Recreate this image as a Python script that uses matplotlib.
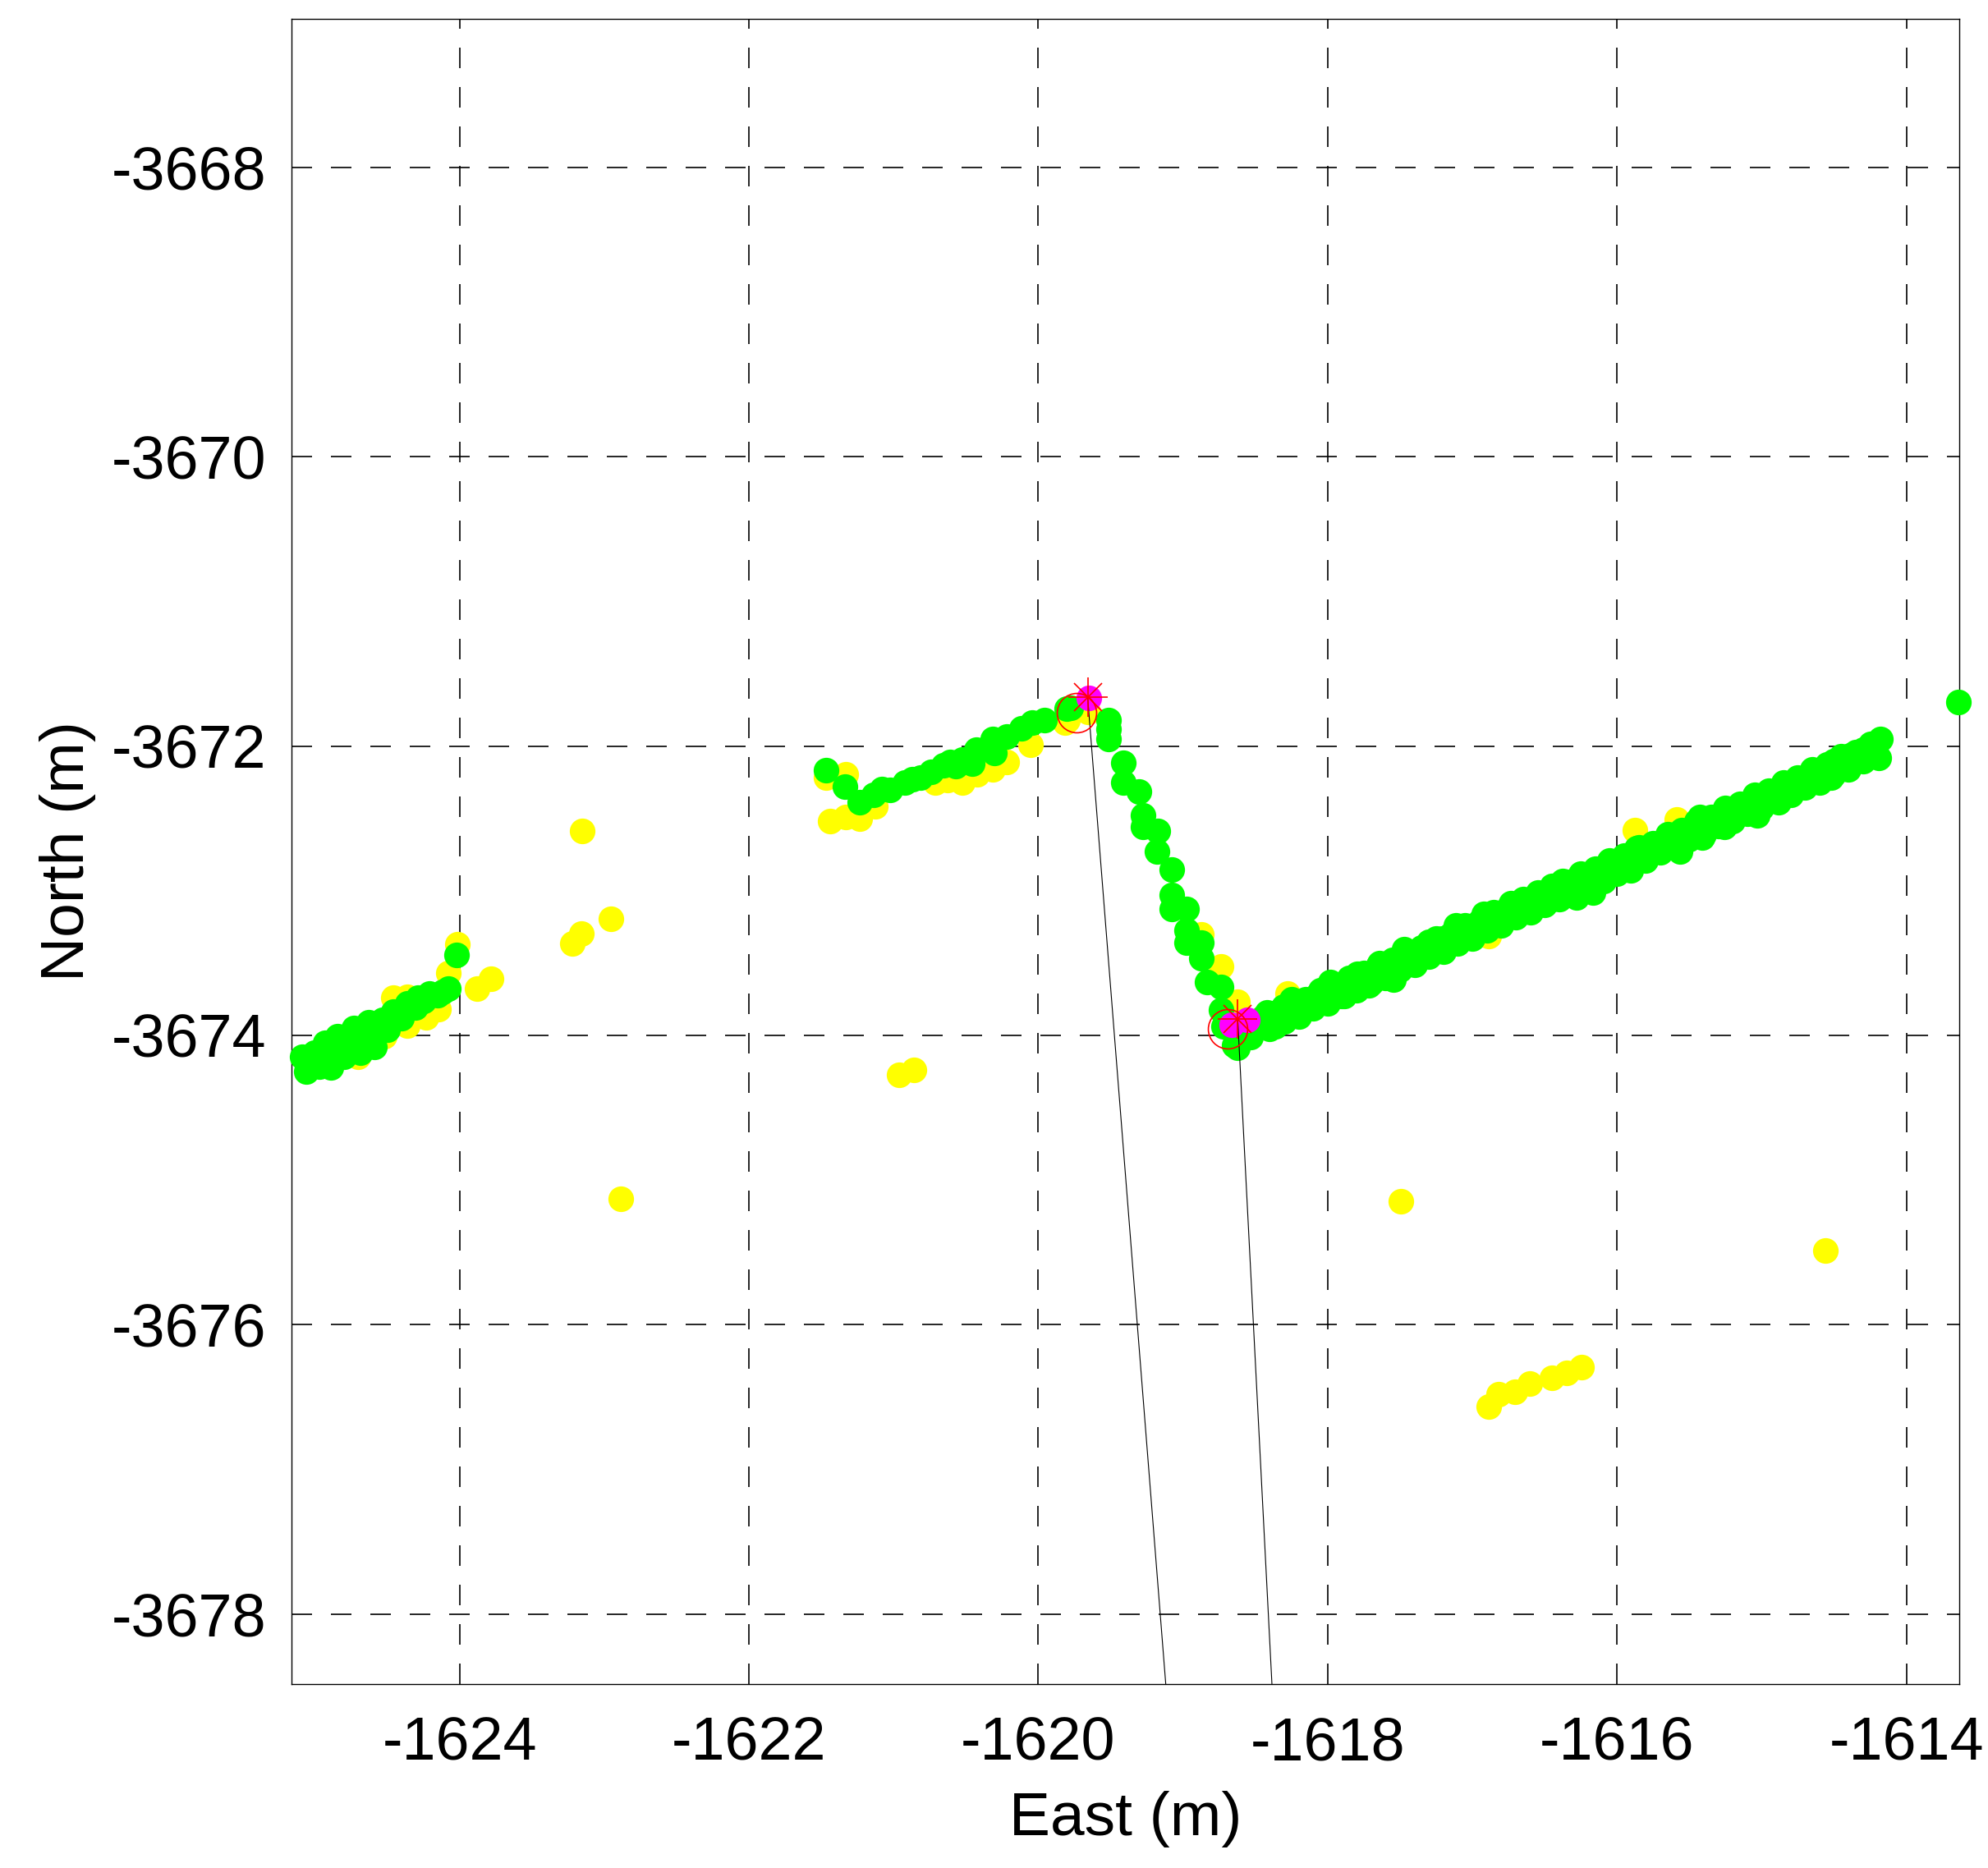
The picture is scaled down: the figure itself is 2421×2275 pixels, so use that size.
import numpy as np
import matplotlib
matplotlib.use("Agg")
import matplotlib.pyplot as plt

plt.rcParams["font.family"] = ["Liberation Sans", "DejaVu Sans"]
plt.rcParams["axes.unicode_minus"] = False

# --- data (East / North in metres) ---
# raw detections (yellow)
yellow_east = [-1624.017, -1624.078, -1623.879, -1623.784, -1624.456, -1624.361, -1624.144,
               -1624.229, -1624.361, -1624.522, -1624.700, -1624.900,
               -1622.953, -1623.157, -1623.223, -1623.155, -1622.887, -1620.962, -1620.862,
               -1621.466, -1621.328, -1621.436, -1621.328, -1621.233, -1621.129, -1620.713,
               -1620.628, -1620.524, -1620.420, -1620.316, -1620.221, -1620.051, -1619.796,
               -1619.654, -1619.818,
               -1618.872, -1618.739, -1618.625, -1618.276,
               -1616.885, -1615.879, -1615.589,
               -1617.493, -1614.561, -1616.886, -1616.820, -1616.706, -1616.602, -1616.451,
               -1616.347, -1616.243]
yellow_north = [-3673.372, -3673.571, -3673.675, -3673.608, -3673.741, -3673.731, -3673.817,
                -3673.873, -3673.930, -3674.006, -3674.150, -3674.200,
                -3673.194, -3673.294, -3673.364, -3672.588, -3675.131, -3674.274, -3674.240,
                -3672.216, -3672.197, -3672.518, -3672.490, -3672.499, -3672.414, -3672.253,
                -3672.235, -3672.253, -3672.197, -3672.159, -3672.112, -3671.989, -3671.818,
                -3671.762, -3671.837,
                -3673.303, -3673.521, -3673.767, -3673.710,
                -3673.313, -3672.584, -3672.509,
                -3675.148, -3675.485, -3676.567, -3676.481, -3676.462, -3676.406, -3676.369,
                -3676.330, -3676.293]

# filtered track (green)
green_east = [
    # left section
    -1625.090, -1625.061, -1625.005, -1624.967, -1624.929, -1624.891, -1624.844, -1624.796,
    -1624.759, -1624.730, -1624.683, -1624.645, -1624.626, -1624.588, -1624.532, -1624.456,
    -1624.361, -1624.305, -1624.286, -1624.210, -1624.153, -1624.078, -1624.021,
    -1625.040, -1624.950, -1624.860, -1624.700, -1624.500, -1624.400, -1624.250, -1624.120,
    # middle section
    -1621.466, -1621.334, -1621.233, -1621.139, -1621.025, -1620.921, -1620.817, -1620.742,
    -1620.656, -1620.571, -1620.524, -1620.458, -1620.429, -1620.316, -1620.306, -1620.221,
    -1620.117, -1620.042, -1619.956, -1619.805, -1619.777, -1621.080, -1620.870, -1620.610,
    # descending section
    -1619.515, -1619.515, -1619.515, -1619.415, -1619.415, -1619.307, -1619.278, -1619.278,
    -1619.174, -1619.178, -1619.076, -1619.076, -1619.076, -1618.976, -1618.976, -1618.976,
    -1618.875, -1618.875, -1618.834, -1618.739, -1618.739, -1618.720, -1618.645,
    # right section
    -1618.626, -1618.588, -1618.531, -1618.418, -1618.361, -1618.304, -1618.247, -1618.171,
    -1618.077, -1617.982, -1617.888, -1617.793, -1617.718, -1617.642, -1617.566, -1617.547,
    -1617.472, -1617.396, -1617.321, -1617.302, -1617.207, -1617.112, -1617.037, -1616.923,
    -1616.829, -1616.734, -1616.640, -1616.545, -1616.470, -1616.375, -1616.281, -1616.186,
    -1616.091, -1615.997,
    -1616.318, -1616.281, -1616.186, -1616.167, -1616.072, -1616.016, -1615.902, -1615.864,
    -1615.789, -1615.676, -1615.581, -1615.562, -1615.449, -1615.430, -1615.411, -1615.279,
    -1615.260, -1615.164, -1615.051, -1615.032, -1614.938, -1614.881, -1614.843, -1614.730,
    -1614.692, -1614.617, -1614.522, -1614.504, -1614.409, -1614.390, -1614.296, -1614.277,
    -1614.192, -1614.179,
    -1618.45, -1618.35, -1618.25, -1618.15, -1618.05, -1617.95, -1617.85, -1617.75,
    -1617.65, -1617.55, -1617.45, -1617.35, -1617.25, -1617.15, -1617.05, -1616.95,
    -1616.85, -1616.75, -1616.65, -1616.55, -1616.45, -1616.35, -1616.25, -1616.15,
    -1616.05, -1615.95, -1615.85, -1615.75, -1615.65, -1615.55, -1615.45, -1615.35,
    -1615.25, -1615.15, -1615.05, -1614.95, -1614.85, -1614.75, -1614.65, -1614.55,
    -1614.45, -1614.35, -1614.25,
    -1618.40, -1618.30, -1618.20, -1618.10, -1618.00, -1617.90, -1617.80, -1617.70,
    -1617.60, -1617.50, -1617.40, -1617.30, -1617.20, -1617.10, -1617.00, -1616.90,
    -1616.80, -1616.70, -1616.60, -1616.50, -1616.40, -1616.30, -1616.20, -1616.10,
    -1616.00, -1615.90, -1615.80, -1615.70, -1615.60, -1615.50, -1615.40, -1615.30,
    -1615.20, -1615.10, -1615.00, -1614.90, -1614.80, -1614.70, -1614.60, -1614.50,
    -1614.40, -1614.30,
    -1613.640]
green_north = [
    -3674.148, -3674.252, -3674.119, -3674.214, -3674.053, -3674.223, -3674.006, -3674.148,
    -3674.044, -3673.949, -3674.119, -3673.987, -3673.911, -3674.081, -3673.892, -3673.835,
    -3673.779, -3673.807, -3673.741, -3673.712, -3673.722, -3673.675, -3673.442,
    -3674.190, -3674.120, -3674.080, -3674.060, -3673.960, -3673.880, -3673.760, -3673.700,
    -3672.168, -3672.282, -3672.386, -3672.339, -3672.301, -3672.253, -3672.216, -3672.178,
    -3672.131, -3672.140, -3672.093, -3672.121, -3672.026, -3671.951, -3672.045, -3671.932,
    -3671.875, -3671.837, -3671.818, -3671.743, -3671.733, -3672.300, -3672.230, -3672.110,
    -3671.818, -3671.885, -3671.951, -3672.115, -3672.253, -3672.316, -3672.481, -3672.556,
    -3672.588, -3672.727, -3672.855, -3673.029, -3673.124, -3673.124, -3673.275, -3673.360,
    -3673.360, -3673.464, -3673.634, -3673.663, -3673.824, -3673.937, -3674.070,
    -3674.088, -3673.918, -3674.013, -3673.842, -3673.937, -3673.804, -3673.748, -3673.823,
    -3673.729, -3673.634, -3673.729, -3673.577, -3673.653, -3673.502, -3673.540, -3673.615,
    -3673.407, -3673.445, -3673.426, -3673.351, -3673.332, -3673.237, -3673.275, -3673.161,
    -3673.218, -3673.086, -3673.142, -3673.010, -3673.067, -3672.934, -3673.010, -3672.897,
    -3672.934, -3672.840,
    -3672.972, -3673.048, -3672.934, -3673.010, -3672.877, -3672.820, -3672.858, -3672.707,
    -3672.764, -3672.669, -3672.632, -3672.726, -3672.556, -3672.490, -3672.632, -3672.480,
    -3672.556, -3672.442, -3672.405, -3672.480, -3672.348, -3672.386, -3672.291, -3672.272,
    -3672.216, -3672.178, -3672.216, -3672.102, -3672.121, -3672.064, -3672.026, -3672.064,
    -3672.079, -3671.951,
    -3673.878, -3673.840, -3673.781, -3673.750, -3673.690, -3673.660, -3673.600, -3673.570,
    -3673.510, -3673.480, -3673.420, -3673.390, -3673.330, -3673.300, -3673.240, -3673.210,
    -3673.150, -3673.120, -3673.060, -3673.030, -3672.970, -3672.940, -3672.880, -3672.850,
    -3672.790, -3672.760, -3672.700, -3672.670, -3672.610, -3672.580, -3672.520, -3672.490,
    -3672.430, -3672.400, -3672.340, -3672.310, -3672.250, -3672.220, -3672.160, -3672.130,
    -3672.070, -3672.040, -3671.985,
    -3673.955, -3673.905, -3673.870, -3673.815, -3673.780, -3673.725, -3673.690, -3673.635,
    -3673.600, -3673.545, -3673.510, -3673.455, -3673.420, -3673.365, -3673.330, -3673.275,
    -3673.240, -3673.185, -3673.150, -3673.095, -3673.060, -3673.005, -3672.970, -3672.915,
    -3672.880, -3672.825, -3672.790, -3672.735, -3672.700, -3672.645, -3672.610, -3672.555,
    -3672.520, -3672.465, -3672.430, -3672.375, -3672.340, -3672.285, -3672.250, -3672.195,
    -3672.160, -3672.105,
    -3671.695]

# selected points (magenta)
pink_east = [-1619.652, -1618.661, -1618.557]
pink_north = [-3671.665, -3673.927, -3673.890]

# reference positions (red star) and previous estimate (red circle)
star_east = [-1619.659, -1618.622]
star_north = [-3671.663, -3673.884]
circle_east = [-1619.738, -1618.691]
circle_north = [-3671.771, -3673.956]

# common origin of the rays
ray_east = -1617.02
ray_north = -3705.0

xticks = [-1624, -1622, -1620, -1618, -1616, -1614]
yticks = [-3678, -3676, -3674, -3672, -3670, -3668]

fig = plt.figure(figsize=(24.21, 22.75), dpi=100)
ax = fig.add_axes([0.1467, 0.0985, 0.8388, 0.8914])

ms = 22.5
ax.plot(yellow_east, yellow_north, "o", color="#ffff00", markersize=ms,
        markeredgewidth=0, clip_on=False, zorder=2)
ax.plot(green_east, green_north, "o", color="#00ff00", markersize=ms,
        markeredgewidth=0, clip_on=False, zorder=3)
ax.plot(pink_east, pink_north, "o", color="#ff00ff", markersize=ms,
        markeredgewidth=0, clip_on=False, zorder=4)

for e, n in zip(star_east, star_north):
    ax.plot([e, ray_east], [n, ray_north], color="black", lw=0.8, zorder=5)

ax.plot(circle_east, circle_north, "o", markerfacecolor="none", markeredgecolor="#ff0000",
        markersize=34.5, markeredgewidth=1.2, zorder=6)
ax.plot(star_east, star_north, "+", color="#ff0000", markersize=34.5,
        markeredgewidth=1.2, zorder=7)
ax.plot(star_east, star_north, "x", color="#ff0000", markersize=24,
        markeredgewidth=1.2, zorder=7)

ax.set_xlim(-1625.161, -1613.635)
ax.set_ylim(-3678.483, -3666.974)
ax.set_xticks(xticks)
ax.set_yticks(yticks)
ax.set_xticklabels([str(v) for v in xticks])
ax.set_yticklabels([str(v) for v in yticks])

ax.set_axisbelow(True)
ax.grid(True, color="black", lw=1.2, linestyle=(0, (15, 13.8)))
ax.tick_params(length=0, labelsize=53)
ax.tick_params(axis="x", pad=28)
ax.tick_params(axis="y", pad=22)
for s in ax.spines.values():
    s.set_linewidth(1.0)

ax.set_xlabel("East (m)", fontsize=54, labelpad=16)
ax.set_ylabel("North (m)", fontsize=54, labelpad=14)

fig.savefig("out.png", dpi=100, facecolor="white")
